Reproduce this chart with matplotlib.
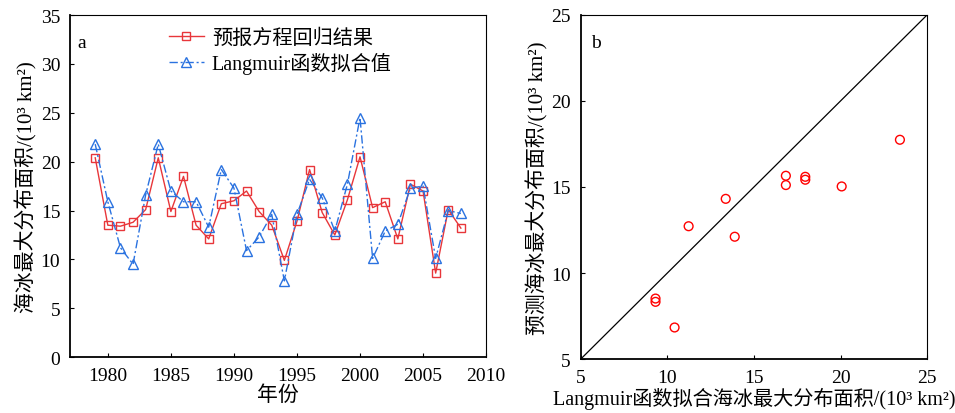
import matplotlib
matplotlib.use("Agg")
import matplotlib.pyplot as plt

plt.rcParams["font.family"] = ["Liberation Serif", "Noto Sans CJK SC"]

years = list(range(1979, 2009))
regression = [20.4, 13.5, 13.4, 13.8, 15.1, 20.4, 14.9, 18.5, 13.5, 12.1,
              15.7, 16.0, 17.0, 14.9, 13.5, 9.9, 13.9, 19.2, 14.8, 12.5,
              16.1, 20.5, 15.3, 15.9, 12.1, 17.7, 17.0, 8.6, 15.1, 13.2]
langmuir = [21.8, 15.9, 11.2, 9.5, 16.6, 21.8, 17.0, 15.9, 15.9, 13.3,
            19.2, 17.3, 10.9, 12.3, 14.6, 7.8, 14.6, 18.2, 16.3, 12.9,
            17.7, 24.5, 10.1, 12.9, 13.6, 17.3, 17.5, 10.1, 15.0, 14.7]

fit_x = [9.32, 9.32, 10.42, 11.23, 13.37, 13.89, 16.84, 16.84, 17.96, 17.96, 20.06, 23.42]
pred_y = [8.52, 8.33, 6.84, 12.72, 14.31, 12.11, 15.65, 15.11, 15.59, 15.42, 15.03, 17.74]

red = "#e8363a"
blue = "#2a72e0"
tick_fs = 14
label_fs = 15

fig = plt.figure(figsize=(9.55, 4.14), dpi=100)
ax1 = fig.add_axes([0.0733, 0.135, 0.4357, 0.826])
ax2 = fig.add_axes([0.608, 0.130, 0.363, 0.832])

ax1.plot(years, regression, color=red, lw=1.0, marker="s", ms=5.2,
         mfc="none", mec=red, mew=1.0, label="预报方程回归结果")
ax1.plot(years, langmuir, color=blue, lw=1.0, ls=(0, (6, 2, 1.5, 2)), marker="^", ms=6.5,
         mfc="none", mec=blue, mew=1.0, label="Langmuir函数拟合值")
ax1.set_xlim(1977, 2010)
ax1.set_ylim(0, 35)
ax1.set_xticks(range(1980, 2011, 5))
ax1.set_yticks(range(0, 36, 5))
ax1.set_xlabel("年份", fontsize=label_fs, labelpad=1, fontweight="medium")
ax1.set_ylabel("海冰最大分布面积/(10³ km²)", fontsize=label_fs, labelpad=2)
ax1.text(0.018, 0.945, "a", transform=ax1.transAxes, fontsize=tick_fs, va="top")
ax1.legend(loc="upper center", bbox_to_anchor=(0.505, 1.0), frameon=False,
           fontsize=14.5, handlelength=1.75, handletextpad=0.4, labelspacing=0.2,
           borderaxespad=0.25)

ax2.plot([5, 25], [5, 25], color="black", lw=0.9)
ax2.scatter(fit_x, pred_y, s=40, facecolors="none", edgecolors="red", linewidths=1.0, zorder=3)
ax2.set_xlim(5, 25)
ax2.set_ylim(5, 25)
ax2.set_xticks(range(5, 26, 5))
ax2.set_yticks(range(5, 26, 5))
ax2.set_xlabel("Langmuir函数拟合海冰最大分布面积/(10³ km²)", fontsize=14.5, labelpad=1)
ax2.set_ylabel("预测海冰最大分布面积/(10³ km²)", fontsize=label_fs, labelpad=2)
ax2.text(0.03, 0.945, "b", transform=ax2.transAxes, fontsize=tick_fs, va="top")

for ax in (ax1, ax2):
    ax.tick_params(direction="in", length=3, width=0.8, labelsize=tick_fs,
                   top=False, right=False, pad=7)
    for side in ("left", "bottom"):
        ax.spines[side].set_linewidth(1.3)
    for side in ("top", "right"):
        ax.spines[side].set_linewidth(0.8)

fig.savefig("out.png", dpi=100)
